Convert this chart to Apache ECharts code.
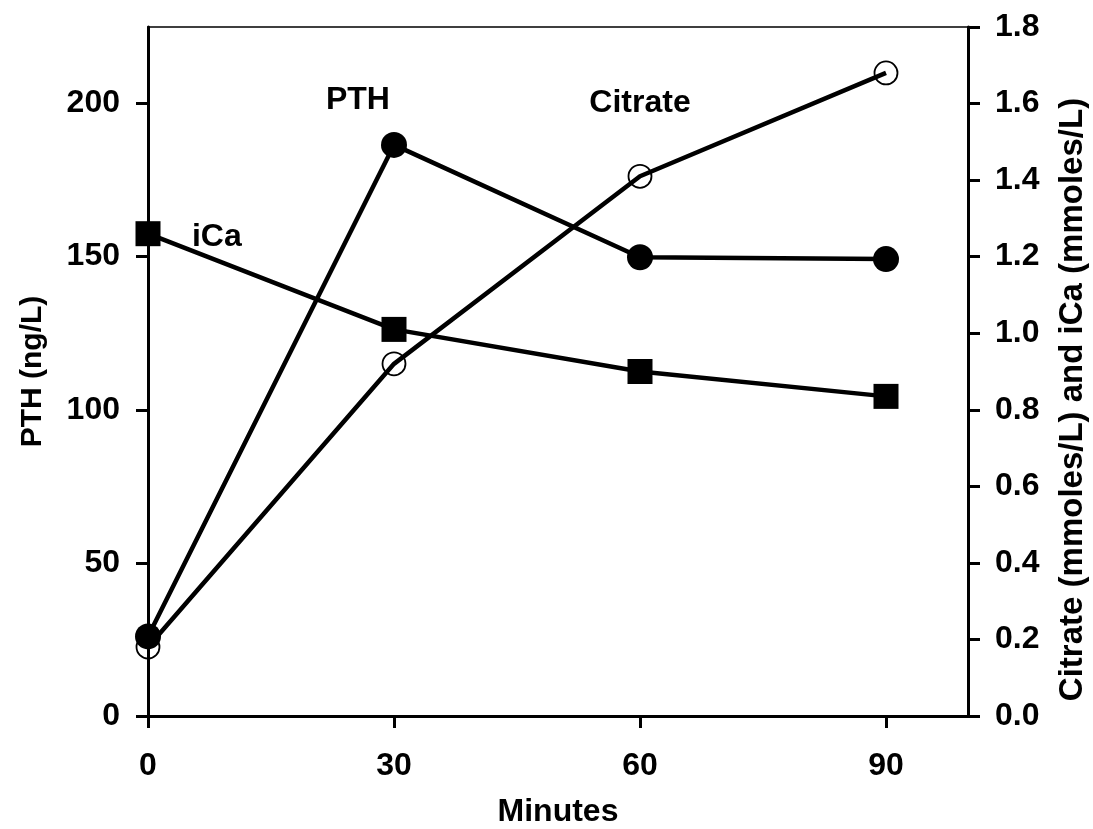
<!DOCTYPE html>
<html>
<head>
<meta charset="utf-8">
<script src="https://cdn.jsdelivr.net/npm/echarts@6/dist/echarts.min.js"></script>
<style>
  html, body { margin: 0; padding: 0; background: #fff; }
  #chart { width: 1093px; height: 829px; }
</style>
</head>
<body>
<div id="chart"></div>
<script>
// 数据
var minutes = [0, 30, 60, 90];
var pth = [26, 186.5, 149.8, 149.2];          // ng/L, left axis
var citrate = [0.18, 0.92, 1.41, 1.68];       // mmoles/L, right axis
var ica = [1.26, 1.01, 0.90, 0.835];          // mmoles/L, right axis
var xTicks = [0, 30, 60, 90];
var leftTicks = [0, 50, 100, 150, 200];
var rightTicks = [0, 0.2, 0.4, 0.6, 0.8, 1.0, 1.2, 1.4, 1.6, 1.8];

var font = 'Liberation Sans';
var txt = { fontFamily: font, fontWeight: 'bold', fontSize: 32, color: '#000' };
var txtSmall = { fontFamily: font, fontWeight: 'bold', fontSize: 30, color: '#000' };

function pairs(xs, ys) {
    return xs.map(function (x, i) { return [x, ys[i]]; });
}
function tag(text, coord) {
    return {
        symbol: 'circle', symbolSize: 1,
        itemStyle: { color: 'transparent' },
        label: Object.assign({ show: true, position: 'inside', formatter: text }, txt),
        data: [{ coord: coord }]
    };
}

var chart = echarts.init(document.getElementById('chart'));
var option = {
    animation: false,
    backgroundColor: '#fff',
    grid: {
        left: 148, right: 125, top: 27, bottom: 113,
        outerBoundsMode: 'none',
        show: true, borderColor: '#000', borderWidth: 1.5
    },
    xAxis: {
        type: 'value', min: 0, max: 100,
        name: 'Minutes', nameLocation: 'middle', nameGap: 80,
        nameTextStyle: txt,
        axisLine: { onZero: false, lineStyle: { color: '#000', width: 3 } },
        axisTick: { customValues: xTicks, length: 12, lineStyle: { color: '#000', width: 3 } },
        axisLabel: Object.assign({ customValues: xTicks, margin: 34 }, txt),
        splitLine: { show: false }
    },
    yAxis: [{
        type: 'value', min: 0, max: 225, position: 'left',
        name: 'PTH (ng/L)', nameLocation: 'middle', nameGap: 100,
        nameTextStyle: txtSmall,
        axisLine: { show: true, lineStyle: { color: '#000', width: 3 } },
        axisTick: { show: true, customValues: leftTicks, length: 12, lineStyle: { color: '#000', width: 3 } },
        axisLabel: Object.assign({ customValues: leftTicks, margin: 28 }, txt),
        splitLine: { show: false }
    }, {
        type: 'value', min: 0, max: 1.8, position: 'right',
        name: 'Citrate (mmoles/L) and iCa (mmoles/L)', nameLocation: 'middle', nameGap: 88,
        nameTextStyle: Object.assign({ padding: [0, 56, 0, 0] }, txt, { fontSize: 33 }),
        axisLine: { show: true, lineStyle: { color: '#000', width: 3 } },
        axisTick: { show: true, customValues: rightTicks, length: 12, lineStyle: { color: '#000', width: 3 } },
        axisLabel: Object.assign({
            customValues: rightTicks, margin: 27,
            formatter: function (v) { return v.toFixed(1); }
        }, txt),
        splitLine: { show: false }
    }],
    series: [{
        name: 'Citrate', type: 'line', yAxisIndex: 1,
        data: pairs(minutes, citrate),
        symbol: 'circle', symbolSize: 23,
        lineStyle: { color: '#000', width: 4.5 },
        itemStyle: { color: 'transparent', borderColor: '#000', borderWidth: 1.8 },
        markPoint: tag('Citrate', [60, 1.6])
    }, {
        name: 'iCa', type: 'line', yAxisIndex: 1,
        data: pairs(minutes, ica),
        symbol: 'rect', symbolSize: 25,
        lineStyle: { color: '#000', width: 4.5 },
        itemStyle: { color: '#000' },
        markPoint: tag('iCa', [8.4, 1.25])
    }, {
        name: 'PTH', type: 'line', yAxisIndex: 0,
        data: pairs(minutes, pth),
        symbol: 'circle', symbolSize: 26,
        lineStyle: { color: '#000', width: 4.5 },
        itemStyle: { color: '#000' },
        markPoint: tag('PTH', [25.6, 201])
    }]
};
chart.setOption(option);
window.addEventListener('resize', chart.resize);
</script>
</body>
</html>
